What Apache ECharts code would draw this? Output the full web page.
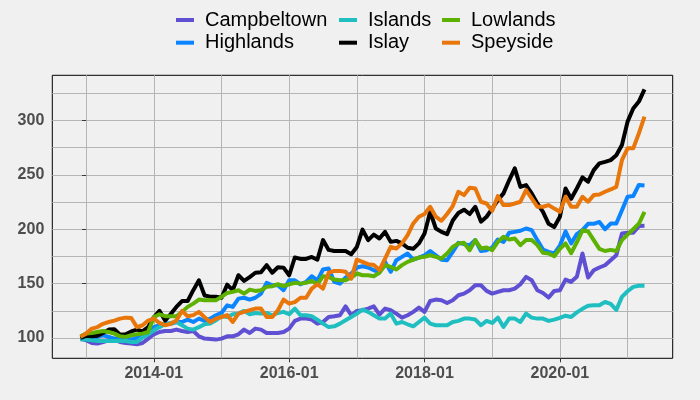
<!DOCTYPE html>
<html>
<head>
<meta charset="utf-8">
<script src="https://cdn.jsdelivr.net/npm/echarts@6/dist/echarts.min.js"></script>
<style>
html,body{margin:0;padding:0;background:#F0F0F0;}
#chart{width:700px;height:400px;}
</style>
</head>
<body>
<div id="chart"></div>
<script>
// Monthly observations, 2012-12 .. 2021-04 (101 months)
const startYear = 2012, startMonth = 12, nMonths = 101;
const months = [];
for (let i = 0; i < nMonths; i++) {
  const t = (startYear * 12 + startMonth - 1) + i;
  months.push(Math.floor(t / 12) + '-' + String(t % 12 + 1).padStart(2, '0'));
}

const regions = ['Campbeltown', 'Highlands', 'Islands', 'Islay', 'Lowlands', 'Speyside'];

const campbeltown = [99.4, 97.9, 95.4, 94.8, 96.3, 97.9, 98.5, 96.3, 95.4, 94.8, 94.2, 95.4, 99.4,
  103.4, 105.5, 106.4, 106.4, 107.7, 106.4, 105.5, 106.4, 101.5, 99.4, 99.1, 98.5,
  99.4, 101.5, 101.5, 103.4, 107.7, 104.6, 108.6, 107.7, 104.6, 104.6, 104.6, 105.5,
  108.6, 115.7, 117.8, 117.8, 116.9, 113.2, 114.7, 119.3, 120, 120.9, 129.1, 120.9,
  124.9, 125.5, 127, 129.1, 121.5, 127, 125.5, 122.4, 118.7, 120.9, 124, 127.9,
  124, 134, 135.3, 134.7, 132.2, 134.7, 139.3, 140.8, 143.9, 148.5, 148.5, 143.3,
  140.8, 142.4, 143.9, 143.9, 145.4, 149.4, 156.2, 153.1, 143.9, 141.4, 137.2, 143.3,
  143.9, 153.7, 151.6, 156.2, 177.7, 155.6, 162.3, 164.8, 166.9, 171.5, 176.1, 196.1,
  196.7, 196.7, 202.9, 203.2];

const highlands = [100, 101.5, 101, 101, 102.5, 101, 99.4, 99.4, 100.3, 98.5, 100.3, 101.5, 104,
  110, 111.7, 113, 113, 114.7, 114.7, 116.9, 114.7, 117.8, 115.7, 117.8, 120.9,
  123, 130, 128.6, 136.2, 137, 135.3, 137, 140.8, 150.7, 148.5, 148.5, 144,
  153, 153, 149.4, 151.6, 156.8, 153, 163, 163.9, 151.6, 150, 155.6, 159.3,
  164.8, 166, 164.8, 162.3, 160.8, 170, 160.8, 171.5, 174.6, 177.7, 172, 174,
  176, 180, 176, 172, 171.5, 179.2, 187.5, 186.3, 185.4, 190, 180, 180.7,
  183.2, 190.6, 188.4, 196.7, 197.6, 198.6, 200.7, 199.2, 190, 181.4, 179.2, 177.7,
  185, 198, 187, 195.5, 199.2, 205, 205, 206.7, 200, 205.2, 205.2, 217.5,
  229.8, 230.5, 240.8, 240.2];

const islands = [98.5, 98.5, 97.9, 97.2, 97.2, 97.2, 97.2, 97.2, 97.2, 96.3, 96.3, 100.3, 103.4,
  107, 110, 112.6, 113.8, 114.7, 111.7, 108.6, 107.7, 110, 112.6, 113.2, 116.3,
  120, 119.3, 121.8, 122.4, 124.9, 121.8, 123, 122.4, 123, 120.9, 123, 124,
  121.8, 127, 120.9, 120.9, 120, 116.9, 113.2, 110, 110.7, 113.2, 116.3, 119.3,
  122.4, 126.1, 124, 120.9, 117.8, 117.8, 122.4, 113.2, 114.7, 112.6, 110.7, 114.7,
  118.7, 113.2, 111.7, 111.7, 111.7, 114.7, 115.7, 117.8, 117.8, 116.9, 111.7, 115.7,
  113.8, 118.7, 110.1, 117.8, 117.8, 114.7, 122.4, 118.7, 117.8, 117.8, 115.7, 116.9,
  118.5, 120.5, 119.3, 123.5, 126.8, 129.6, 130, 130.1, 133.1, 131.4, 125.8, 137.8,
  143, 147, 148, 148];

const islay = [100, 102, 101.5, 102, 104.6, 107.7, 108, 103, 103.4, 106, 107.7, 106, 110,
  119, 125, 116, 122, 128.5, 134, 134, 144, 153, 139, 138, 138,
  137, 149, 144, 157.7, 152.5, 156, 160, 160.4, 167, 160, 165, 164.7,
  157.7, 174, 172.7, 172.7, 174.5, 172, 190, 181, 180, 180, 180, 177,
  183.7, 199.7, 190, 195, 191.5, 197.6, 188.4, 189.3, 187, 183, 182, 187,
  196, 216, 200.7, 197.6, 195.5, 208, 215, 218, 214, 220.7, 207, 211.5,
  219, 226.8, 233, 245, 256, 239, 240.6, 233, 223.7, 216, 205, 202,
  211.5, 237.5, 228, 237.5, 247.7, 243.7, 254.4, 260.6, 262, 263.6, 268, 277.5,
  299, 311, 317.4, 328.7];

const lowlands = [101.5, 104, 104.6, 105.5, 106.4, 105.5, 104, 101.5, 101, 102.5, 103.4, 104, 105.5,
  119.3, 121.8, 120, 120, 120, 124, 128.6, 131.6, 135.3, 134.7, 134.7, 134.7,
  137.8, 141.4, 142.4, 143.9, 140.8, 144.5, 143.3, 143.9, 147, 147.6, 149.4, 147.6,
  149.4, 150.7, 150, 150.7, 152.5, 149.4, 156.8, 156.2, 153.7, 153.1, 153.1, 155.6,
  159.3, 157.7, 157.7, 156.8, 160, 167, 165.4, 163, 167, 170, 172, 174,
  174.6, 176.1, 174.6, 173, 177.7, 183.8, 186.9, 187.5, 180.7, 190, 182.3, 183.2,
  180.7, 188.4, 193, 190.6, 191.5, 185.4, 190, 190, 185.4, 178.3, 177.7, 175.2,
  182, 187, 178, 188, 199, 198, 190, 182, 180, 181, 180, 190,
  195, 200, 205, 216];

const speyside = [101, 104, 108.6, 110, 113, 114.7, 116, 117.8, 118.7, 118.4, 110, 111.7, 116,
  117.8, 113.8, 111.7, 113, 116, 124.9, 120, 121, 124, 119, 114.7, 117.8,
  119.3, 121, 114.7, 122.4, 124, 125.5, 127, 127, 119.3, 119.3, 125.5, 135.3,
  131.6, 133, 137, 137, 145.4, 149.4, 145.4, 160, 161.7, 161.7, 161, 154.6,
  172, 170, 167.9, 167.2, 162.5, 173, 183.8, 182.3, 187, 194.6, 205.3, 211.5,
  214, 220.7, 211.5, 207.8, 214, 221.3, 234.5, 231.4, 238.2, 237.5, 225.3, 223.7,
  217, 230.5, 222.2, 222.2, 223.7, 225.3, 236, 228.3, 220.7, 220.7, 222.2, 219,
  216, 229.9, 220.7, 220.7, 229.9, 225.3, 231.4, 232, 234.5, 236.6, 239, 263.6,
  274.4, 274.4, 288.2, 303.6];

const xGridMonths = ['2013-01','2014-01','2015-01','2016-01','2017-01','2018-01','2019-01','2020-01','2021-01'];
const xTickLabels = ['2014-01', '2016-01', '2018-01', '2020-01'];
const yGridValues = [100, 125, 150, 175, 200, 225, 250, 275, 300, 325];
const yTickValues = [100, 150, 200, 250, 300];

const colors = ['#5E4FD3', '#0A84FF', '#1FBFC1', '#000000', '#5DB100', '#E8760A'];
const seriesValues = [campbeltown, highlands, islands, islay, lowlands, speyside];

// month string -> month index relative to 2013-01
function mIdx(s) {
  const [y, m] = s.split('-').map(Number);
  return (y - 2013) * 12 + (m - 1);
}
const xs = months.map(mIdx);
const xMinData = xs[0], xMaxData = xs[xs.length - 1];
const xPad = (xMaxData - xMinData) * 0.05;
const yMin = 81.3, yMax = 341.6;

const axisFont = { fontFamily: 'Liberation Sans, Arial, sans-serif', fontSize: 16, fontWeight: 'bold', color: '#4D4D4D' };

const chart = echarts.init(document.getElementById('chart'), null, { renderer: 'canvas' });

const legends = [[0, 1], [2, 3], [4, 5]].map((pair, k) => ({
  orient: 'vertical',
  left: [176, 339, 442][k],
  top: 10,
  padding: 0,
  itemGap: 2.7,
  itemWidth: 18,
  itemHeight: 4,
  icon: 'rect',
  data: pair.map(i => regions[i]),
  textStyle: { fontFamily: 'Liberation Sans, Arial, sans-serif', fontSize: 20, color: '#000', padding: [0, 0, 0, 6] }
}));

chart.setOption({
  animation: false,
  backgroundColor: '#F0F0F0',
  color: colors,
  legend: legends,
  grid: { left: 52.3, top: 75.3, right: 27.3, bottom: 41.7, show: true, borderColor: '#000', borderWidth: 1, backgroundColor: 'transparent' },
  xAxis: [{
    type: 'value', min: xMinData - xPad, max: xMaxData + xPad,
    axisLine: { show: false },
    axisTick: { show: false, customValues: xGridMonths.map(mIdx) },
    axisLabel: { show: false },
    splitLine: { show: true, lineStyle: { color: '#B5B5B5', width: 1 } }
  }, {
    type: 'value', min: xMinData - xPad, max: xMaxData + xPad, position: 'bottom',
    axisLine: { show: false },
    axisTick: { show: true, length: 4, lineStyle: { color: '#333' }, customValues: xTickLabels.map(mIdx) },
    axisLabel: Object.assign({ show: true, margin: 7, customValues: xTickLabels.map(mIdx),
      formatter: v => xTickLabels.find(s => mIdx(s) === Math.round(v)) || '' }, axisFont),
    splitLine: { show: false }
  }],
  yAxis: [{
    type: 'value', min: yMin, max: yMax,
    axisLine: { show: false },
    axisTick: { show: false, customValues: yGridValues },
    axisLabel: { show: false },
    splitLine: { show: true, lineStyle: { color: '#B5B5B5', width: 1 } }
  }, {
    type: 'value', min: yMin, max: yMax, position: 'left',
    axisLine: { show: false },
    axisTick: { show: true, length: 4, lineStyle: { color: '#333' }, customValues: yTickValues },
    axisLabel: Object.assign({ show: true, margin: 8, customValues: yTickValues }, axisFont),
    splitLine: { show: false }
  }],
  series: regions.map((name, i) => ({
    name, type: 'line', xAxisIndex: 0, yAxisIndex: 0,
    showSymbol: false, symbol: 'none',
    lineStyle: { width: 4, color: colors[i], join: 'round', cap: 'butt' },
    itemStyle: { color: colors[i] },
    emphasis: { disabled: true },
    data: xs.map((x, j) => [x, seriesValues[i][j]])
  }))
});
</script>
</body>
</html>
